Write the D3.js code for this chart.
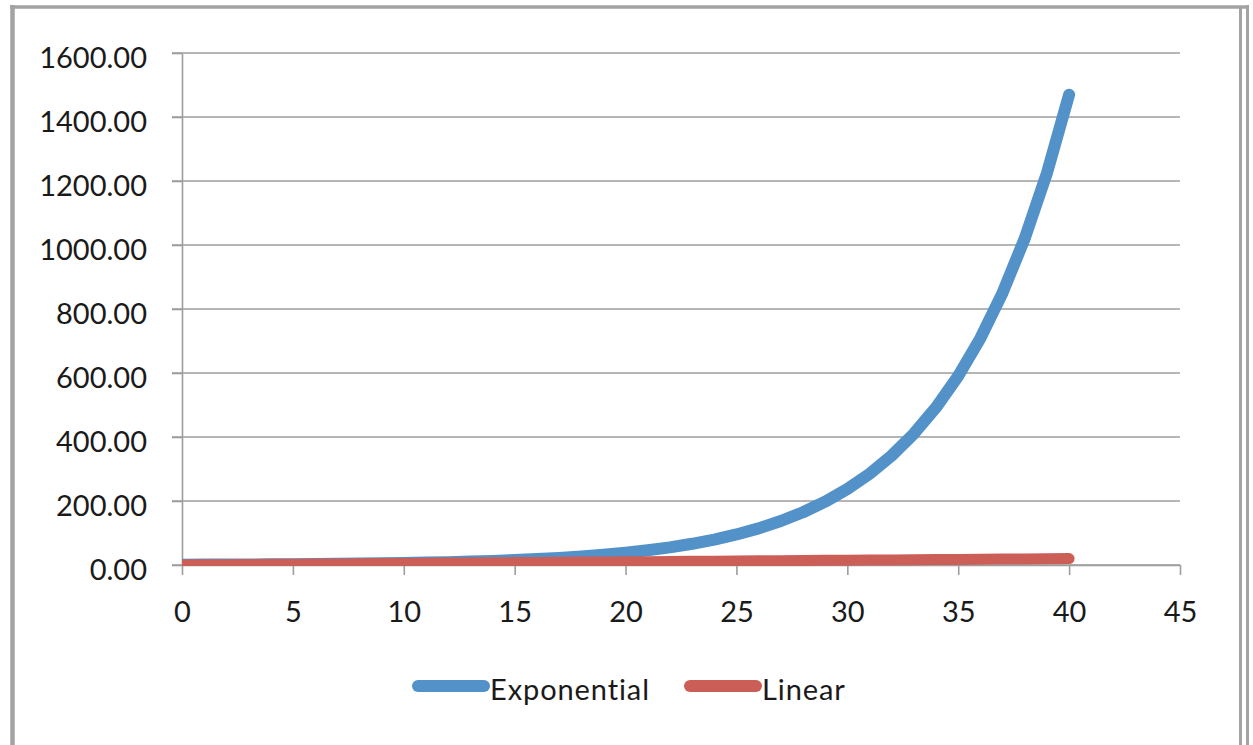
<!DOCTYPE html>
<html>
<head>
<meta charset="utf-8">
<script src="https://cdn.jsdelivr.net/npm/d3@7"></script>
<style>
  html, body { margin: 0; padding: 0; background: #fff; }
  svg { display: block; }
  text { font-family: Lato, "Open Sans", sans-serif; fill: #1a1a1a; }
</style>
</head>
<body>
<svg id="chart" width="1253" height="745"></svg>
<script>
// Series values, one point per whole step from 0 to 40
const xValues = [0,1,2,3,4,5,6,7,8,9,10,11,12,13,14,15,16,17,18,19,20,
                 21,22,23,24,25,26,27,28,29,30,31,32,33,34,35,36,37,38,39,40];
const exponential = [1.00,1.20,1.44,1.73,2.07,2.49,2.99,3.58,4.30,5.16,6.19,
                     7.43,8.92,10.70,12.84,15.41,18.49,22.19,26.62,31.95,38.34,
                     46.01,55.21,66.25,79.50,95.40,114.48,137.37,164.84,197.81,237.38,
                     284.85,341.82,410.19,492.22,590.67,708.80,850.56,1020.67,1224.81,1469.77];
const linear = [0,0.5,1,1.5,2,2.5,3,3.5,4,4.5,5,5.5,6,6.5,7,7.5,8,8.5,9,9.5,10,
                10.5,11,11.5,12,12.5,13,13.5,14,14.5,15,15.5,16,16.5,17,17.5,18,18.5,19,19.5,20];
const seriesNames = ["Exponential", "Linear"];
const seriesColors = ["#5391c9", "#cb5f57"];
const seriesWidths = [12, 11];

// Axis ticks
const xTicks = [0,5,10,15,20,25,30,35,40,45];
const yTicks = [0,200,400,600,800,1000,1200,1400,1600];

const svg = d3.select("#chart");
const plot = {left: 182, right: 1180, top: 53, bottom: 565};

const x = d3.scaleLinear().domain([0, 45]).range([plot.left, plot.right]);
const y = d3.scaleLinear().domain([0, 1600]).range([plot.bottom, plot.top]);

// Outer chart frame
const frame = svg.append("g").attr("fill", "none");
frame.append("line").attr("x1", 12.5).attr("x2", 12.5).attr("y1", 5).attr("y2", 745)
  .attr("stroke", "#a3a3a3").attr("stroke-width", 4.5);
frame.append("line").attr("x1", 10).attr("x2", 1249).attr("y1", 7).attr("y2", 7)
  .attr("stroke", "#a3a3a3").attr("stroke-width", 3.5);
frame.append("line").attr("x1", 1240.5).attr("x2", 1240.5).attr("y1", 8).attr("y2", 745)
  .attr("stroke", "#a3a3a3").attr("stroke-width", 3);
frame.append("line").attr("x1", 1247.5).attr("x2", 1247.5).attr("y1", 5).attr("y2", 745)
  .attr("stroke", "#a3a3a3").attr("stroke-width", 3);

// Horizontal gridlines
svg.append("g")
  .selectAll("line")
  .data(yTicks)
  .join("line")
  .attr("x1", plot.left - 10)
  .attr("x2", plot.right)
  .attr("y1", d => y(d))
  .attr("y2", d => y(d))
  .attr("stroke", "#9d9d9d")
  .attr("stroke-width", 1.6);

// Y axis
const yAxis = svg.append("g")
  .attr("transform", `translate(${plot.left},0)`)
  .call(d3.axisLeft(y).tickValues(yTicks).tickFormat(d3.format(".2f"))
        .tickSize(10).tickSizeOuter(0).tickPadding(25));
yAxis.select(".domain").attr("stroke", "#9d9d9d").attr("stroke-width", 1.6);
yAxis.selectAll(".tick line").attr("stroke", "#9d9d9d").attr("stroke-width", 1.6);
yAxis.selectAll(".tick text")
  .attr("font-family", "Lato, 'Open Sans', sans-serif")
  .attr("font-size", 29)
  .attr("fill", "#1a1a1a")
  .attr("dy", "0.35em")
  .attr("transform", "translate(0,4)");

// X axis
const xAxis = svg.append("g")
  .attr("transform", `translate(0,${plot.bottom})`)
  .call(d3.axisBottom(x).tickValues(xTicks).tickFormat(d3.format("d"))
        .tickSize(10).tickSizeOuter(0));
xAxis.select(".domain").attr("stroke", "#9d9d9d").attr("stroke-width", 1.6);
xAxis.selectAll(".tick line").attr("stroke", "#9d9d9d").attr("stroke-width", 1.6);
xAxis.selectAll(".tick text")
  .attr("font-family", "Lato, 'Open Sans', sans-serif")
  .attr("font-size", 29)
  .attr("fill", "#1a1a1a")
  .attr("y", 57)
  .attr("dy", 0);

// Series lines, clipped to the plot area
svg.append("clipPath").attr("id", "plot-clip")
  .append("rect")
  .attr("x", plot.left).attr("y", plot.top - 20)
  .attr("width", plot.right - plot.left + 20)
  .attr("height", plot.bottom - plot.top + 21);

const line = d3.line()
  .x((d, i) => x(xValues[i]))
  .y(d => y(d));

const lines = svg.append("g").attr("clip-path", "url(#plot-clip)");
[exponential, linear].forEach((values, k) => {
  lines.append("path")
    .datum(values)
    .attr("d", line)
    .attr("fill", "none")
    .attr("stroke", seriesColors[k])
    .attr("stroke-width", seriesWidths[k])
    .attr("stroke-linecap", "round")
    .attr("stroke-linejoin", "round");
});

// Legend
const legendItems = [
  {x1: 418, x2: 484, tx: 490},
  {x1: 690, x2: 756, tx: 762}
];
const legend = svg.append("g");
legendItems.forEach((p, k) => {
  legend.append("line")
    .attr("x1", p.x1).attr("x2", p.x2)
    .attr("y1", 686).attr("y2", 686)
    .attr("stroke", seriesColors[k])
    .attr("stroke-width", 12)
    .attr("stroke-linecap", "round");
  legend.append("text")
    .attr("x", p.tx).attr("y", 700)
    .attr("font-size", 29)
    .attr("letter-spacing", 0.9)
    .text(seriesNames[k]);
});
</script>
</body>
</html>
